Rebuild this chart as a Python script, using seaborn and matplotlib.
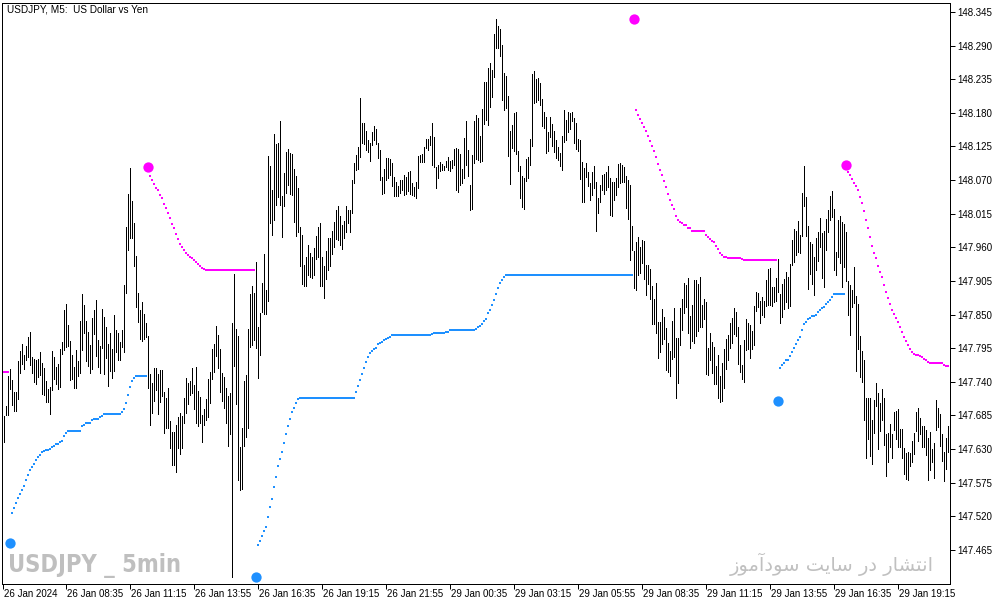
import numpy as np
import pandas as pd
import matplotlib
matplotlib.use("Agg")
import matplotlib.pyplot as plt
import matplotlib.transforms as mtransforms
from matplotlib import font_manager
from matplotlib.font_manager import FontProperties
import seaborn as sns

# ---------------- data (USDJPY M5 bars) ----------------
highs = [
147.684,147.701,147.749,147.761,147.743,147.723,147.723,147.774,147.791,147.802,
147.784,147.799,147.814,147.822,147.781,147.777,147.776,147.778,147.789,147.771,
147.763,147.742,147.729,147.731,147.791,147.781,147.765,147.769,147.794,147.805,
147.857,147.868,147.833,147.806,147.784,147.765,147.792,147.774,147.840,147.884,
147.866,147.840,147.822,147.801,147.845,147.858,147.874,147.809,147.799,147.859,
147.846,147.830,147.802,147.820,147.794,147.850,147.825,147.820,147.805,147.825,
147.899,147.993,148.047,148.090,148.036,148.000,147.946,147.886,147.858,147.871,
147.851,147.836,147.815,147.753,147.738,147.763,147.763,147.753,147.760,147.759,
147.724,147.714,147.730,147.676,147.658,147.658,147.670,147.683,147.689,147.684,
147.714,147.747,147.738,147.742,147.763,147.735,147.765,147.725,147.715,147.686,
147.696,147.712,147.745,147.756,147.794,147.802,147.832,147.817,147.794,147.755,
147.748,147.730,147.717,147.722,147.836,147.917,147.827,147.815,147.633,147.665,
147.742,147.751,147.827,147.884,147.897,147.885,147.936,147.830,147.853,147.902,
147.949,147.890,148.109,148.093,148.054,148.145,148.129,148.131,148.167,148.044,
148.082,148.116,148.121,148.114,148.113,148.088,148.077,148.057,147.993,147.980,
147.931,147.944,147.964,147.951,147.944,147.959,147.979,147.993,148.000,147.944,
147.930,147.954,147.976,147.976,147.987,148.002,148.021,148.028,148.012,147.997,
148.003,148.028,148.021,148.021,148.070,148.098,148.111,148.124,148.204,148.164,
148.164,148.150,148.136,148.131,148.149,148.159,148.154,148.131,148.119,148.075,
148.088,148.106,148.106,148.105,148.098,148.075,148.067,148.061,148.070,148.070,
148.079,148.075,148.083,148.085,148.065,148.059,148.067,148.110,148.111,148.113,
148.124,148.137,148.137,148.142,148.164,148.141,148.092,148.095,148.100,148.097,
148.093,148.101,148.108,148.102,148.103,148.121,148.122,148.121,148.113,148.088,
148.139,148.167,148.119,148.062,148.111,148.167,148.177,148.172,148.142,148.186,
148.231,148.231,148.254,148.262,148.250,148.309,148.334,148.322,148.317,148.291,
148.245,148.240,148.208,148.150,148.160,148.180,148.182,148.118,148.093,148.077,
148.074,148.105,148.108,148.137,148.244,148.249,148.236,148.237,148.229,148.203,
148.182,148.173,148.149,148.173,148.162,148.150,148.136,148.124,148.114,148.142,
148.185,148.168,148.182,148.180,148.182,148.172,148.164,148.137,148.136,148.100,
148.090,148.098,148.083,148.065,148.083,148.093,148.067,148.041,148.062,148.079,
148.080,148.083,148.093,148.074,148.067,148.067,148.074,148.096,148.098,148.095,
148.092,148.077,148.070,148.062,147.995,147.954,147.969,147.977,147.961,147.972,
147.970,147.931,147.931,147.925,147.897,147.876,147.902,147.838,147.838,147.859,
147.846,147.828,147.804,147.791,147.840,147.861,147.812,147.812,147.861,147.876,
147.902,147.899,147.910,147.848,147.866,147.907,147.907,147.900,147.912,147.866,
147.876,147.871,147.796,147.820,147.805,147.797,147.766,147.784,147.750,147.771,
147.794,147.810,147.817,147.836,147.844,147.861,147.854,147.830,147.800,147.768,
147.809,147.843,147.836,147.833,147.823,147.864,147.887,147.885,147.872,147.879,
147.872,147.907,147.925,147.926,147.895,147.895,147.910,147.941,147.884,147.900,
147.908,147.920,147.912,147.933,147.972,147.990,147.987,148.003,147.980,148.049,
148.093,148.042,147.995,147.969,147.966,147.944,147.975,147.985,148.008,147.984,
147.987,148.007,148.021,148.044,148.052,148.023,147.953,148.005,148.011,148.002,
147.998,147.985,147.905,147.899,147.890,147.928,147.881,147.868,147.815,147.791,
147.776,147.714,147.714,147.714,147.678,147.711,147.738,147.722,147.706,147.729,
147.714,147.655,147.657,147.671,147.655,147.691,147.693,147.696,147.663,147.663,
147.632,147.624,147.626,147.624,147.644,147.657,147.691,147.698,147.681,147.668,
147.668,147.662,147.648,147.658,147.630,147.640,147.711,147.698,147.688,147.655,
147.626,147.648,147.668]

lows = [
147.642,147.686,147.686,147.729,147.702,147.692,147.692,147.712,147.754,147.769,
147.761,147.776,147.781,147.767,147.755,147.740,147.736,147.748,147.751,147.720,
147.718,147.707,147.707,147.688,147.727,147.745,147.737,147.729,147.731,147.786,
147.792,147.797,147.798,147.743,147.745,147.730,147.730,147.750,147.754,147.792,
147.820,147.774,147.766,147.755,147.761,147.818,147.783,147.765,147.754,147.796,
147.753,147.779,147.733,147.758,147.747,147.758,147.789,147.776,147.776,147.797,
147.789,147.886,147.956,147.975,147.975,147.930,147.863,147.838,147.810,147.807,
147.810,147.814,147.730,147.670,147.689,147.709,147.727,147.688,147.707,147.717,
147.657,147.665,147.665,147.632,147.604,147.604,147.592,147.632,147.622,147.632,
147.672,147.689,147.704,147.719,147.722,147.695,147.672,147.667,147.672,147.642,
147.669,147.677,147.683,147.706,147.745,147.756,147.782,147.763,147.724,147.708,
147.698,147.673,147.635,147.654,147.420,147.766,147.704,147.579,147.563,147.564,
147.635,147.650,147.665,147.797,147.800,147.809,147.795,147.746,147.784,147.854,
147.851,147.851,147.873,148.000,147.980,148.005,148.029,148.042,148.029,147.977,
148.028,148.049,148.062,148.047,148.046,148.002,147.979,147.985,147.930,147.900,
147.897,147.897,147.915,147.912,147.910,147.915,147.941,147.944,147.896,147.896,
147.877,147.908,147.923,147.929,147.949,147.960,147.974,147.972,147.964,147.958,
147.976,147.985,148.000,147.985,148.016,148.065,148.087,148.088,148.108,148.131,
148.129,148.119,148.116,148.101,148.128,148.136,148.129,148.106,148.070,148.047,
148.049,148.070,148.074,148.079,148.061,148.044,148.044,148.044,148.049,148.054,
148.046,148.047,148.052,148.047,148.046,148.044,148.041,148.057,148.100,148.100,
148.100,148.123,148.119,148.128,148.095,148.092,148.057,148.074,148.085,148.087,
148.087,148.092,148.087,148.085,148.090,148.095,148.054,148.051,148.062,148.065,
148.073,148.095,148.076,148.021,148.023,148.098,148.105,148.103,148.100,148.101,
148.162,148.168,148.160,148.190,148.206,148.239,148.286,148.286,148.273,148.201,
148.185,148.188,148.110,148.064,148.123,148.118,148.113,148.085,148.041,148.026,
148.023,148.069,148.074,148.095,148.126,148.196,148.198,148.201,148.193,148.159,
148.155,148.115,148.118,148.141,148.126,148.116,148.106,148.103,148.093,148.087,
148.132,148.136,148.149,148.154,148.167,148.131,148.121,148.118,148.072,148.034,
148.034,148.075,148.061,148.038,148.046,148.057,147.987,148.016,148.034,148.054,
148.047,148.054,148.059,148.013,148.011,148.038,148.046,148.059,148.065,148.067,
148.067,148.025,148.007,147.940,147.956,147.894,147.891,147.915,147.918,147.935,
147.909,147.882,147.900,147.876,147.835,147.835,147.820,147.779,147.789,147.802,
147.810,147.760,147.756,147.750,147.778,147.781,147.714,147.738,147.800,147.825,
147.853,147.863,147.820,147.796,147.807,147.804,147.815,147.823,147.830,147.830,
147.843,147.753,147.751,147.776,147.755,147.737,147.737,147.714,147.707,147.709,
147.730,147.761,147.776,147.796,147.804,147.818,147.815,147.769,147.756,147.745,
147.740,147.792,147.794,147.779,147.794,147.800,147.856,147.863,147.836,147.850,
147.846,147.864,147.866,147.865,147.864,147.871,147.872,147.887,147.836,147.846,
147.859,147.871,147.861,147.864,147.931,147.936,147.948,147.953,147.951,147.979,
148.028,147.979,147.892,147.917,147.900,147.882,147.923,147.938,147.961,147.910,
147.895,147.956,147.985,148.005,148.010,147.923,147.915,147.944,147.935,147.895,
147.928,147.905,147.850,147.817,147.863,147.869,147.758,147.794,147.748,147.740,
147.678,147.616,147.647,147.619,147.606,147.657,147.701,147.630,147.660,147.678,
147.637,147.586,147.609,147.634,147.616,147.662,147.647,147.634,147.634,147.616,
147.590,147.581,147.580,147.603,147.609,147.622,147.660,147.644,147.655,147.634,
147.634,147.621,147.580,147.596,147.609,147.583,147.662,147.666,147.635,147.611,
147.578,147.598,147.626]

# x-axis labels: one every 32 five-minute bars (160 min); first label one bar before bar 0
tick_labels = ["26 Jan 2024", "26 Jan 08:35", "26 Jan 11:15", "26 Jan 13:55",
               "26 Jan 16:35", "26 Jan 19:15", "26 Jan 21:55", "29 Jan 00:35",
               "29 Jan 03:15", "29 Jan 05:55", "29 Jan 08:35", "29 Jan 11:15",
               "29 Jan 13:55", "29 Jan 16:35", "29 Jan 19:15"]
first_label_bar = -1
bars_per_label = 32

price_ticks = [147.465, 147.520, 147.575, 147.630, 147.685, 147.740, 147.795, 147.850,
               147.905, 147.960, 148.015, 148.070, 148.125, 148.180, 148.235, 148.290,
               148.345]

# indicator (dotted trailing lines), each segment: first bar index + values
mag_a_start = 0
mag_a = [147.756, 147.756, 147.756]

blue_a_start = 4
blue_a = [147.526, 147.534, 147.542, 147.550, 147.557, 147.563,
          147.570, 147.579, 147.588, 147.595, 147.600, 147.606, 147.612, 147.617, 147.621, 147.625,
          147.627, 147.628, 147.629, 147.630, 147.633, 147.635, 147.638, 147.638, 147.642, 147.644,
          147.651, 147.656,
          147.659, 147.659, 147.659, 147.659, 147.659, 147.659,
          147.660, 147.667, 147.670, 147.672, 147.673, 147.673, 147.677,
          147.680, 147.680, 147.680, 147.682, 147.684,
          147.687, 147.687, 147.687, 147.687, 147.687, 147.687,
          147.688, 147.688, 147.688, 147.690, 147.695, 147.706, 147.719, 147.731, 147.741, 147.747,
          147.749, 147.750, 147.750, 147.750, 147.750, 147.750]

mag_b_start = 73
mag_b = [148.076, 148.070, 148.064, 148.057, 148.053, 148.046, 148.040, 148.031, 148.024, 148.017,
         148.008, 147.999, 147.991, 147.982, 147.974, 147.966, 147.960, 147.955, 147.950, 147.948,
         147.945, 147.942, 147.940, 147.936, 147.933, 147.930, 147.926, 147.925,
         147.923, 147.923, 147.923, 147.923, 147.923, 147.923, 147.923, 147.923, 147.923, 147.923,
         147.923, 147.923, 147.923, 147.923, 147.923, 147.923, 147.923, 147.923, 147.923, 147.923,
         147.923, 147.923, 147.923, 147.923, 147.923]

blue_b_start = 127
blue_b = [147.473, 147.480, 147.488, 147.496, 147.503, 147.519, 147.536, 147.549, 147.568, 147.584,
          147.602, 147.614, 147.625, 147.640, 147.655, 147.667, 147.680, 147.690, 147.698, 147.705,
          147.712,
          147.714, 147.714, 147.714, 147.714, 147.714, 147.714, 147.714, 147.714, 147.714, 147.714,
          147.714, 147.714, 147.714, 147.714, 147.714, 147.714, 147.714, 147.714, 147.714, 147.714,
          147.714, 147.714, 147.714, 147.714, 147.714, 147.714, 147.714, 147.714,
          147.723, 147.733, 147.743, 147.753, 147.763, 147.773, 147.781, 147.787, 147.791, 147.793,
          147.795, 147.802, 147.804, 147.805, 147.809, 147.810, 147.812, 147.814,
          147.816, 147.816, 147.816, 147.816, 147.816, 147.816, 147.816, 147.816, 147.816, 147.816,
          147.816, 147.816, 147.816, 147.816, 147.816, 147.816, 147.816, 147.816, 147.816, 147.816,
          147.819, 147.820, 147.820, 147.820, 147.820, 147.820, 147.820, 147.822, 147.822,
          147.824, 147.824, 147.824, 147.824, 147.824, 147.824, 147.824, 147.824, 147.824, 147.824,
          147.824, 147.824, 147.824,
          147.827, 147.829, 147.832, 147.834, 147.840, 147.843, 147.852, 147.858, 147.865, 147.874,
          147.884, 147.894, 147.902, 147.907, 147.912,
          147.915, 147.915, 147.915, 147.915, 147.915, 147.915, 147.915, 147.915, 147.915, 147.915,
          147.915, 147.915, 147.915, 147.915, 147.915, 147.915, 147.915, 147.915, 147.915, 147.915,
          147.915, 147.915, 147.915, 147.915, 147.915, 147.915, 147.915, 147.915, 147.915, 147.915,
          147.915, 147.915, 147.915, 147.915, 147.915, 147.915, 147.915, 147.915, 147.915, 147.915,
          147.915, 147.915, 147.915, 147.915, 147.915, 147.915, 147.915, 147.915, 147.915, 147.915,
          147.915, 147.915, 147.915, 147.915, 147.915, 147.915, 147.915, 147.915, 147.915, 147.915,
          147.915, 147.915, 147.915, 147.915]

mag_c_start = 316
mag_c = [148.185, 148.177, 148.170, 148.164, 148.157, 148.150, 148.142, 148.134, 148.126, 148.118,
         148.108, 148.097, 148.087, 148.079, 148.069, 148.058, 148.048, 148.038, 148.030, 148.023,
         148.012, 148.005, 148.002, 148.000, 147.997, 147.997, 147.992, 147.991,
         147.986, 147.986, 147.986, 147.986, 147.986, 147.986, 147.986,
         147.981, 147.977, 147.974, 147.971, 147.968, 147.963, 147.958, 147.951, 147.948, 147.945,
         147.945,
         147.943, 147.943, 147.943, 147.943, 147.943, 147.943, 147.943, 147.941,
         147.940, 147.940, 147.940, 147.940, 147.940, 147.940, 147.940, 147.940, 147.940, 147.940,
         147.940, 147.940, 147.940, 147.940, 147.940, 147.940, 147.940]

blue_c_start = 388
blue_c = [147.763, 147.768, 147.771, 147.775, 147.776, 147.783, 147.789, 147.796, 147.802, 147.809,
          147.814, 147.825, 147.834, 147.838, 147.843, 147.845, 147.847, 147.848, 147.850, 147.855,
          147.858, 147.860, 147.863, 147.868, 147.871, 147.874, 147.879,
          147.883, 147.883, 147.883, 147.883, 147.883, 147.883]

mag_d_start = 422
mag_d = [148.084, 148.078, 148.071, 148.066, 148.061, 148.054, 148.043, 148.033, 148.020, 148.005,
         147.992, 147.977, 147.963, 147.951, 147.943, 147.930, 147.920, 147.912, 147.899, 147.887,
         147.877, 147.867, 147.858, 147.851, 147.844, 147.838, 147.830, 147.822, 147.814, 147.807,
         147.800, 147.794, 147.789, 147.786, 147.784, 147.784, 147.782, 147.781, 147.777, 147.776,
         147.773, 147.771, 147.770, 147.770, 147.770, 147.770, 147.770, 147.770, 147.768, 147.766,
         147.766]

# signal dots
up_bars = [3, 126, 387]
up_prices = [147.476, 147.421, 147.709]
down_bars = [72, 315, 421]
down_prices = [148.091, 148.334, 148.094]

title_text = "USDJPY, M5:  US Dollar vs Yen"
watermark_text = "USDJPY _ 5min"
# "انتشار در سایت سودآموز" written in shaped (presentation) forms, visual order,
# because matplotlib has no Arabic shaping / bidi
persian_text = ("\uFEAF\uFEEE\uFEE3\uFE81\uFEA9\uFEEE\uFEB3 \uFE96\uFBFE\uFE8E\uFEB3 "
                "\uFEAD\uFEA9 \uFEAD\uFE8E\uFEB8\uFE98\uFEE7\uFE8D")

MAGENTA = "#FF00FF"
BLUE = "#1E90FF"

# ---------------- figure ----------------
sns.set_style("white")
plt.rcParams["font.family"] = ["Liberation Sans", "DejaVu Sans"]

W, H = 1003, 605
fig = plt.figure(figsize=(W / 100, H / 100), dpi=100, facecolor="white")
ax = fig.add_axes([2.5 / W, 21 / H, 948 / W, 581.3 / H])
ax.set_facecolor("white")

bars = pd.DataFrame({"bar": np.arange(len(highs)), "high": highs, "low": lows})
ax.vlines(bars["bar"], bars["low"], bars["high"], colors="black",
          linewidth=0.72, antialiased=False, zorder=2)

segments = [(mag_a_start, mag_a, MAGENTA), (blue_a_start, blue_a, BLUE),
            (mag_b_start, mag_b, MAGENTA), (blue_b_start, blue_b, BLUE),
            (mag_c_start, mag_c, MAGENTA), (blue_c_start, blue_c, BLUE),
            (mag_d_start, mag_d, MAGENTA)]
for start, vals, col in segments:
    seg = pd.DataFrame({"bar": np.arange(start, start + len(vals)), "price": vals})
    sns.scatterplot(data=seg, x="bar", y="price", marker="s", s=2.2, color=col,
                    linewidth=0, ax=ax, legend=False, zorder=3)

sig_up = pd.DataFrame({"bar": up_bars, "price": up_prices})
sig_dn = pd.DataFrame({"bar": down_bars, "price": down_prices})
sns.scatterplot(data=sig_up, x="bar", y="price", marker="o", s=55, color=BLUE,
                linewidth=0, ax=ax, legend=False, zorder=4)
sns.scatterplot(data=sig_dn, x="bar", y="price", marker="o", s=55, color=MAGENTA,
                linewidth=0, ax=ax, legend=False, zorder=4)

ax.set_xlim(-0.9, 473.1)
ax.set_ylim(147.4093, 148.3602)
ax.set_xlabel("")
ax.set_ylabel("")

# y axis on the right
ax.yaxis.tick_right()
ax.set_yticks(price_ticks)
ax.set_yticklabels([f"{v:.3f}" for v in price_ticks])
ax.tick_params(axis="y", which="major", direction="out", length=3.6, width=0.72,
               pad=1.0, labelsize=7, colors="black", left=False, right=True)

tick_pos = [first_label_bar + bars_per_label * k for k in range(len(tick_labels))]
ax.set_xticks(tick_pos)
ax.set_xticklabels(tick_labels)
ax.tick_params(axis="x", which="major", direction="out", length=3.6, width=0.72,
               pad=0.3, labelsize=7, colors="black", bottom=True)
offset = mtransforms.ScaledTranslation(1 / 100, 0, fig.dpi_scale_trans)
for lbl in ax.get_xticklabels():
    lbl.set_horizontalalignment("left")
    lbl.set_transform(lbl.get_transform() + offset)

for sp in ax.spines.values():
    sp.set_visible(True)
    sp.set_color("black")
    sp.set_linewidth(0.72)

fig.text(7 / W, 1 - 4.5 / H, title_text, ha="left", va="top", fontsize=7.2, color="black")

# watermark: prefer a narrow / condensed bold face if one is installed
wm_prop = None
for f in font_manager.fontManager.ttflist:
    nm = f.name.lower()
    is_narrow = ("narrow" in nm or "condensed" in nm or
                 str(f.stretch).lower() in ("condensed", "semi-condensed", "extra-condensed"))
    is_bold = str(f.weight).lower() in ("bold", "700", "heavy", "800", "black", "900")
    if is_narrow and is_bold and f.style == "normal":
        wm_prop = FontProperties(fname=f.fname, size=21)
        break
if wm_prop is None:
    wm_prop = FontProperties(family="Liberation Sans", weight="bold", size=17)

wm = fig.text(8 / W, (H - 578) / H, watermark_text, ha="left", va="bottom",
              fontproperties=wm_prop, color="#BFBFBF", zorder=1)
# keep the watermark within its original width (about 173 px)
fig.canvas.draw()
bb = wm.get_window_extent()
if bb.width > 178:
    wm_prop.set_size(wm_prop.get_size() * 173.0 / bb.width)
    wm.set_fontproperties(wm_prop)

fig.text(934 / W, (H - 576) / H, persian_text, ha="right", va="bottom",
         fontsize=14, color="#C0C0C0", family=["DejaVu Sans"], zorder=1)

fig.savefig("out.png", dpi=100, facecolor="white")
